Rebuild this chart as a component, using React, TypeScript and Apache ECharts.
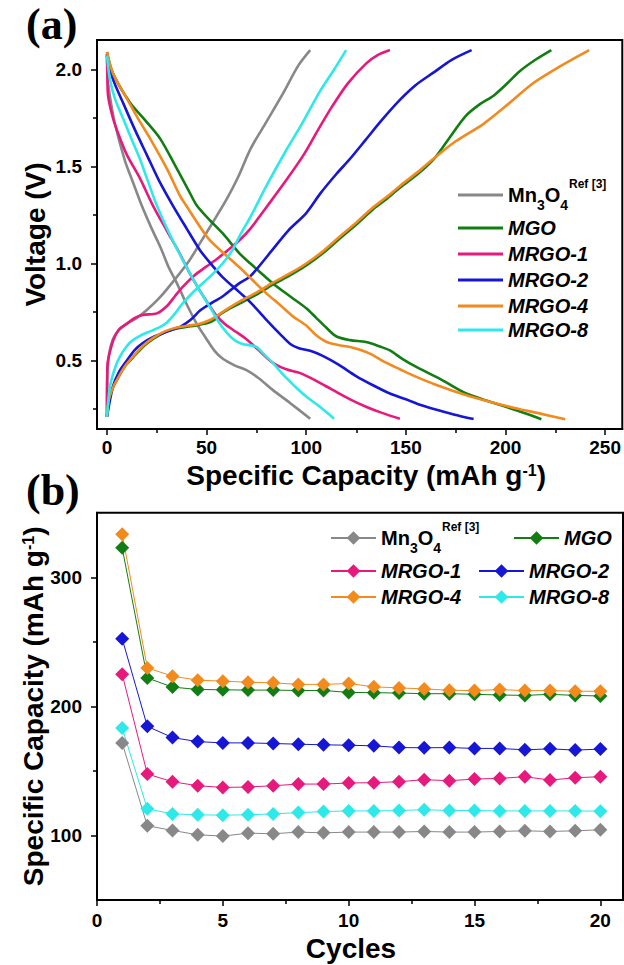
import { useEffect, useRef } from 'react';
import * as echarts from 'echarts';

const FONT = '"Liberation Sans", Arial, Helvetica, sans-serif';
const SERIF = '"Liberation Serif", "Times New Roman", serif';

// ---------- shared ----------
const seriesNames = ['Mn3O4', 'MGO', 'MRGO-1', 'MRGO-2', 'MRGO-4', 'MRGO-8'];
const seriesColors = ['#888888', '#127d12', '#e8197d', '#1616d6', '#f28a1e', '#2ee9e9'];

// ---------- panel (a): voltage profiles [capacity mAh/g, voltage V] ----------
const mn3o4Discharge = [[0, 2.08], [0.4, 1.95], [1.5, 1.86], [4, 1.72], [9, 1.53], [13, 1.42], [17.4, 1.3], [22, 1.19], [27, 1.08], [31, 0.98], [35, 0.9], [40, 0.79], [45, 0.69], [50, 0.61], [54, 0.55], [58, 0.51], [64, 0.475], [70, 0.45], [76, 0.41], [83, 0.35], [92, 0.28], [102, 0.2]];
const mgoDischarge = [[0, 2.09], [3, 1.98], [11.5, 1.83], [19, 1.74], [26.6, 1.645], [35, 1.49], [40.8, 1.38], [45, 1.3], [51, 1.23], [58, 1.156], [66.7, 1.05], [72, 1.0], [83, 0.9], [92, 0.83], [100, 0.77], [105, 0.72], [110, 0.67], [115, 0.625], [122, 0.605], [130, 0.595], [137, 0.572], [142, 0.552], [148, 0.51], [155, 0.468], [168, 0.4], [180, 0.331], [193, 0.285], [205, 0.245], [212, 0.22], [218, 0.197]];
const mrgo1Discharge = [[0, 2.08], [0.2, 1.98], [0.5, 1.87], [3, 1.75], [6, 1.66], [10, 1.56], [16.5, 1.44], [23, 1.3], [30, 1.17], [36.6, 1.05], [41, 0.96], [46.6, 0.86], [51, 0.79], [55, 0.73], [59, 0.69], [63, 0.66], [70, 0.61], [76, 0.555], [83, 0.49], [90, 0.455], [97, 0.435], [105, 0.395], [113, 0.35], [122, 0.3], [130, 0.262], [138, 0.23], [147, 0.2]];
const mrgo2Discharge = [[0, 2.07], [3, 1.95], [8, 1.83], [14, 1.69], [20, 1.56], [26, 1.43], [33, 1.3], [40, 1.18], [46.6, 1.07], [52, 1.0], [58, 0.93], [66.7, 0.85], [72, 0.8], [80, 0.71], [87, 0.635], [92, 0.585], [96, 0.565], [102, 0.55], [108, 0.525], [116, 0.48], [125, 0.42], [134, 0.37], [142, 0.33], [150, 0.3], [157, 0.272], [164, 0.25], [174, 0.222], [184, 0.198]];
const mrgo4Discharge = [[0, 2.09], [3, 1.98], [10, 1.85], [16, 1.74], [21.6, 1.645], [30, 1.49], [36.6, 1.35], [40, 1.295], [46, 1.2], [51.6, 1.12], [60, 1.04], [66.7, 0.978], [73, 0.915], [80, 0.846], [87, 0.785], [93, 0.73], [100, 0.68], [105, 0.63], [110, 0.597], [116, 0.58], [122, 0.57], [127, 0.555], [133, 0.53], [139, 0.494], [147, 0.455], [155, 0.417], [165, 0.375], [180, 0.322], [193, 0.285], [205, 0.254], [218, 0.225], [230, 0.197]];
const mrgo8Discharge = [[0, 2.07], [1.5, 1.95], [4, 1.85], [8, 1.75], [12, 1.65], [16.5, 1.54], [20, 1.44], [25, 1.3], [32, 1.14], [40, 0.98], [46, 0.87], [52, 0.77], [56, 0.7], [60, 0.645], [64, 0.605], [68, 0.585], [72, 0.578], [75, 0.57], [79, 0.53], [83, 0.49], [90, 0.41], [95, 0.36], [100, 0.315], [107, 0.26], [114, 0.2]];

const mn3o4Charge = [[0, 0.21], [0.3, 0.45], [2, 0.58], [5, 0.645], [10, 0.69], [15, 0.72], [20, 0.76], [27, 0.83], [35, 0.93], [41, 1.01], [47, 1.11], [53, 1.21], [60, 1.33], [66, 1.45], [72, 1.59], [80, 1.73], [88, 1.87], [96, 2.02], [102, 2.1]];
const mgoCharge = [[0, 0.21], [1, 0.3], [3, 0.36], [5, 0.4], [9, 0.47], [13, 0.515], [18, 0.57], [23, 0.61], [29, 0.645], [35, 0.665], [41, 0.675], [46.6, 0.685], [51, 0.695], [54, 0.71], [57, 0.74], [61, 0.765], [66.7, 0.795], [75, 0.84], [83, 0.89], [92, 0.94], [100, 0.99], [108, 1.05], [117, 1.13], [125, 1.2], [133, 1.275], [140, 1.33], [147, 1.39], [157, 1.47], [165, 1.55], [172, 1.65], [180, 1.76], [187, 1.82], [194, 1.865], [200, 1.92], [207, 1.99], [215, 2.05], [223, 2.1]];
const mrgo1Charge = [[0, 0.21], [0.2, 0.47], [3, 0.6], [6, 0.66], [10, 0.69], [14, 0.72], [18, 0.735], [25, 0.743], [30, 0.78], [34, 0.83], [38, 0.88], [44, 0.94], [50, 0.985], [56, 1.03], [62, 1.08], [67, 1.125], [72, 1.18], [80, 1.29], [90, 1.43], [99, 1.565], [106, 1.69], [113, 1.81], [121, 1.93], [130, 2.03], [136, 2.075], [142, 2.1]];
const mrgo2Charge = [[0, 0.21], [3, 0.365], [6, 0.44], [10, 0.5], [14, 0.555], [18, 0.59], [23, 0.62], [28, 0.64], [33, 0.66], [37, 0.675], [42, 0.71], [47, 0.76], [53, 0.8], [58, 0.83], [66.7, 0.9], [72, 0.935], [83, 1.07], [91, 1.17], [100, 1.26], [107, 1.36], [115, 1.46], [122, 1.54], [130, 1.64], [138, 1.74], [147, 1.843], [155, 1.92], [164, 1.985], [173, 2.05], [183, 2.1]];
const mrgo4Charge = [[0, 0.21], [1, 0.3], [3, 0.36], [5, 0.4], [9, 0.47], [13, 0.52], [18, 0.575], [23, 0.615], [29, 0.65], [35, 0.67], [41, 0.68], [46.6, 0.69], [52, 0.71], [56.6, 0.74], [61, 0.77], [66.7, 0.805], [75, 0.85], [83, 0.9], [92, 0.95], [100, 1.0], [108, 1.06], [117, 1.14], [125, 1.21], [133, 1.285], [140, 1.34], [147, 1.4], [157, 1.48], [165, 1.55], [175, 1.63], [189, 1.72], [200, 1.81], [214, 1.93], [228, 2.02], [242, 2.1]];
const mrgo8Charge = [[0, 0.21], [1.5, 0.365], [4, 0.46], [6.5, 0.52], [10, 0.575], [13, 0.605], [17, 0.63], [21.6, 0.65], [27, 0.675], [30, 0.695], [34, 0.74], [38, 0.795], [45, 0.87], [52, 0.935], [58, 1.0], [63, 1.07], [67, 1.15], [72, 1.24], [80, 1.4], [90, 1.585], [97, 1.705], [107, 1.89], [114, 2.0], [120, 2.1]];

const dischargeCurves = [mn3o4Discharge, mgoDischarge, mrgo1Discharge, mrgo2Discharge, mrgo4Discharge, mrgo8Discharge];
const chargeCurves = [mn3o4Charge, mgoCharge, mrgo1Charge, mrgo2Charge, mrgo4Charge, mrgo8Charge];

const capacityTicksA = [0, 50, 100, 150, 200, 250];
const capacityMinorA = [25, 75, 125, 175, 225];
const voltageTicks = [0.5, 1.0, 1.5, 2.0];
const voltageMinor = [0.25, 0.75, 1.25, 1.75];

// ---------- panel (b): cycling ----------
const cycles = [1, 2, 3, 4, 5, 6, 7, 8, 9, 10, 11, 12, 13, 14, 15, 16, 17, 18, 19, 20];
const mn3o4Cycling = [171.7, 107.5, 103.9, 100.5, 99.5, 101.8, 101.3, 102.6, 102, 102.6, 102.6, 102.6, 103.1, 102.6, 102.6, 103.1, 103.6, 103.1, 103.6, 104.4];
const mgoCycling = [322.8, 222, 214.9, 213.1, 212.8, 212.6, 212.6, 212.3, 212.3, 210.8, 210.6, 210.3, 209.8, 209.8, 209.3, 208.8, 208.5, 209.3, 208.5, 208];
const mrgo1Cycling = [224.9, 147.6, 141.6, 138.5, 137.2, 137.5, 138.5, 139.8, 139.8, 140.6, 140.9, 141.6, 143.2, 142.4, 143.7, 144.2, 145.5, 142.9, 144.7, 145.5];
const mrgo2Cycling = [252.4, 184.5, 175.8, 172.7, 171.7, 171.7, 171.2, 170.7, 170.2, 169.9, 169.4, 168.1, 167.9, 168.1, 167.4, 167.4, 166.3, 167.1, 166.1, 166.9];
const mrgo4Cycling = [333.4, 229.8, 223.4, 220.3, 219.5, 218.7, 218.2, 217, 217, 217.7, 215.1, 214.3, 213.5, 212.5, 212.2, 213, 212.2, 212.2, 211.7, 211.7];
const mrgo8Cycling = [183.2, 120.6, 116.7, 116, 115.7, 116, 116.7, 117.7, 118.5, 119, 119, 119.3, 120, 119.3, 119.3, 119, 119, 119, 119, 118.8];
const cyclingValues = [mn3o4Cycling, mgoCycling, mrgo1Cycling, mrgo2Cycling, mrgo4Cycling, mrgo8Cycling];

const cycleTicks = [0, 5, 10, 15, 20];
const cycleMinor = [2.5, 7.5, 12.5, 17.5];
const capacityTicksB = [100, 200, 300];
const capacityMinorB = [150, 250];

// ---------- styles ----------
const frameLine = { color: '#000', width: 2 };
const tickLine = { color: '#000', width: 1.5 };
const tickLabel = { color: '#000', fontFamily: FONT, fontWeight: 'bold', fontSize: 19, lineHeight: 17 };
const titleStyle = (padding: number[]) => ({
  color: '#000', fontFamily: FONT, fontWeight: 'bold', fontSize: 28, lineHeight: 26, padding,
  rich: { sup: { color: '#000', fontFamily: FONT, fontWeight: 'bold', fontSize: 16, lineHeight: 12, verticalAlign: 'top' } },
});
const legendRich = {
  m: { color: '#000', fontFamily: FONT, fontWeight: 'bold', fontStyle: 'normal', fontSize: 20, lineHeight: 34, verticalAlign: 'middle' },
  s: { color: '#000', fontFamily: FONT, fontWeight: 'bold', fontStyle: 'normal', fontSize: 14, lineHeight: 15, verticalAlign: 'bottom' },
  p: { color: '#000', fontFamily: FONT, fontWeight: 'bold', fontStyle: 'normal', fontSize: 12, lineHeight: 19, verticalAlign: 'top', padding: [0, 0, 0, 1] },
};
const legendFormatter = (name: string) => (name === 'Mn3O4' ? '{m|Mn}{s|3}{m|O}{s|4}{p|Ref [3]}' : name);
const legendText = { color: '#000', fontFamily: FONT, fontWeight: 'bold', fontStyle: 'italic', fontSize: 20, lineHeight: 24, rich: legendRich };

function mainAxis(extra: any) {
  return {
    type: 'value', gridIndex: 0,
    axisLine: { show: true, onZero: false, lineStyle: frameLine },
    splitLine: { show: false },
    ...extra,
  };
}
function minorAxis(min: number, max: number, values: number[]) {
  return {
    type: 'value', gridIndex: 1, min, max,
    axisLine: { show: false, onZero: false },
    axisLabel: { show: false },
    axisTick: { show: true, customValues: values, length: 4, lineStyle: tickLine },
    splitLine: { show: false },
  };
}

function buildLegends(items: any[], common: any) {
  return items.map((it) => ({
    data: [it.name], left: it.left, top: it.cy - (it.name === 'Mn3O4' ? 17 : 12),
    padding: 0, itemGap: 0, selectedMode: false, formatter: legendFormatter, textStyle: legendText, ...common,
  }));
}

function optionA() {
  const X0 = -5, X1 = 258.6, Y0 = 0.147, Y1 = 2.152;
  const series: any[] = [];
  seriesNames.forEach((name, i) => {
    [dischargeCurves[i], chargeCurves[i]].forEach((curve) => {
      series.push({
        type: 'line', name, data: curve, xAxisIndex: 0, yAxisIndex: 0,
        symbol: 'none', smooth: 0.3, color: seriesColors[i],
        lineStyle: { color: seriesColors[i], width: 2.6 },
        emphasis: { disabled: true },
      });
    });
  });
  const legendItems = [
    { name: 'Mn3O4', left: 458, cy: 195 },
    { name: 'MGO', left: 458, cy: 228 },
    { name: 'MRGO-1', left: 458, cy: 254 },
    { name: 'MRGO-2', left: 458, cy: 280 },
    { name: 'MRGO-4', left: 458, cy: 306 },
    { name: 'MRGO-8', left: 458, cy: 330 },
  ];
  return {
    animation: false,
    backgroundColor: 'transparent',
    grid: [
      { left: 97, top: 40, width: 526, height: 389, show: true, borderColor: '#000', borderWidth: 2, backgroundColor: 'transparent' },
      { left: 97, top: 40, width: 526, height: 389 },
    ],
    xAxis: [
      mainAxis({
        min: X0, max: X1,
        name: 'Specific Capacity (mAh g{sup|-1})', nameLocation: 'middle', nameGap: 33.5, nameMoveOverlap: false,
        nameTextStyle: titleStyle([0, 0, 0, 13]),
        axisTick: { show: true, customValues: capacityTicksA, length: 6, lineStyle: tickLine },
        axisLabel: { show: true, customValues: capacityTicksA, margin: 9.5, ...tickLabel },
      }),
      minorAxis(X0, X1, capacityMinorA),
    ],
    yAxis: [
      mainAxis({
        min: Y0, max: Y1,
        name: 'Voltage (V)', nameLocation: 'middle', nameGap: 49, nameMoveOverlap: false,
        nameTextStyle: titleStyle([0, 0, 0, 0]),
        axisTick: { show: true, customValues: voltageTicks, length: 6, lineStyle: tickLine },
        axisLabel: { show: true, customValues: voltageTicks, margin: 15, formatter: (v: number) => v.toFixed(1), ...tickLabel },
      }),
      minorAxis(Y0, Y1, voltageMinor),
    ],
    legend: buildLegends(legendItems, { icon: 'rect', itemWidth: 45, itemHeight: 3 }),
    graphic: [
      { type: 'text', x: 26, y: 24, style: { text: '(a)', fill: '#000', fontFamily: SERIF, fontWeight: 'bold', fontSize: 44, align: 'left', verticalAlign: 'middle' } },
    ],
    series,
  };
}

function optionB() {
  const X0 = 0, X1 = 20.9, Y0 = 50, Y1 = 350;
  const series = seriesNames.map((name, i) => ({
    type: 'line', name, xAxisIndex: 0, yAxisIndex: 0,
    data: cycles.map((c, k) => [c, cyclingValues[i][k]]),
    symbol: 'diamond', symbolSize: 14, color: seriesColors[i],
    itemStyle: { color: seriesColors[i] },
    lineStyle: { color: seriesColors[i], width: 1 },
    emphasis: { disabled: true },
  }));
  const legendItems = [
    { name: 'Mn3O4', left: 330, cy: 538 },
    { name: 'MGO', left: 513, cy: 538 },
    { name: 'MRGO-1', left: 330, cy: 571 },
    { name: 'MRGO-2', left: 478, cy: 571 },
    { name: 'MRGO-4', left: 330, cy: 597 },
    { name: 'MRGO-8', left: 478, cy: 597 },
  ];
  return {
    animation: false,
    backgroundColor: 'transparent',
    grid: [
      { left: 97, top: 512.7, width: 526, height: 387.3, show: true, borderColor: '#000', borderWidth: 2, backgroundColor: 'transparent' },
      { left: 97, top: 512.7, width: 526, height: 387.3 },
    ],
    xAxis: [
      mainAxis({
        min: X0, max: X1,
        name: 'Cycles', nameLocation: 'middle', nameGap: 35, nameMoveOverlap: false,
        nameTextStyle: titleStyle([0, 18, 0, 0]),
        axisTick: { show: true, customValues: cycleTicks, length: 6, lineStyle: tickLine },
        axisLabel: { show: true, customValues: cycleTicks, margin: 11.5, ...tickLabel },
      }),
      minorAxis(X0, X1, cycleMinor),
    ],
    yAxis: [
      mainAxis({
        min: Y0, max: Y1,
        name: 'Specific Capacity (mAh g{sup|-1})', nameLocation: 'middle', nameGap: 51, nameMoveOverlap: false,
        nameTextStyle: titleStyle([0, 0, 0, 0]),
        axisTick: { show: true, customValues: capacityTicksB, length: 6, lineStyle: tickLine },
        axisLabel: { show: true, customValues: capacityTicksB, margin: 15, ...tickLabel },
      }),
      minorAxis(Y0, Y1, capacityMinorB),
    ],
    legend: buildLegends(legendItems, { itemWidth: 45, itemHeight: 17 }),
    graphic: [
      { type: 'text', x: 26, y: 490, style: { text: '(b)', fill: '#000', fontFamily: SERIF, fontWeight: 'bold', fontSize: 44, align: 'left', verticalAlign: 'middle' } },
    ],
    series,
  };
}

export default function App() {
  const refA = useRef<HTMLDivElement>(null);
  const refB = useRef<HTMLDivElement>(null);
  useEffect(() => {
    const a = echarts.init(refA.current!, null, { renderer: 'svg' });
    const b = echarts.init(refB.current!, null, { renderer: 'svg' });
    a.setOption(optionA() as any);
    b.setOption(optionB() as any);
    return () => {
      a.dispose();
      b.dispose();
    };
  }, []);
  return (
    <div style={{ position: 'absolute', left: 0, top: 0, width: 624, height: 965, background: '#fff' }}>
      <div ref={refA} style={{ position: 'absolute', left: 0, top: 0, width: 624, height: 965 }} />
      <div ref={refB} style={{ position: 'absolute', left: 0, top: 0, width: 624, height: 965 }} />
    </div>
  );
}
